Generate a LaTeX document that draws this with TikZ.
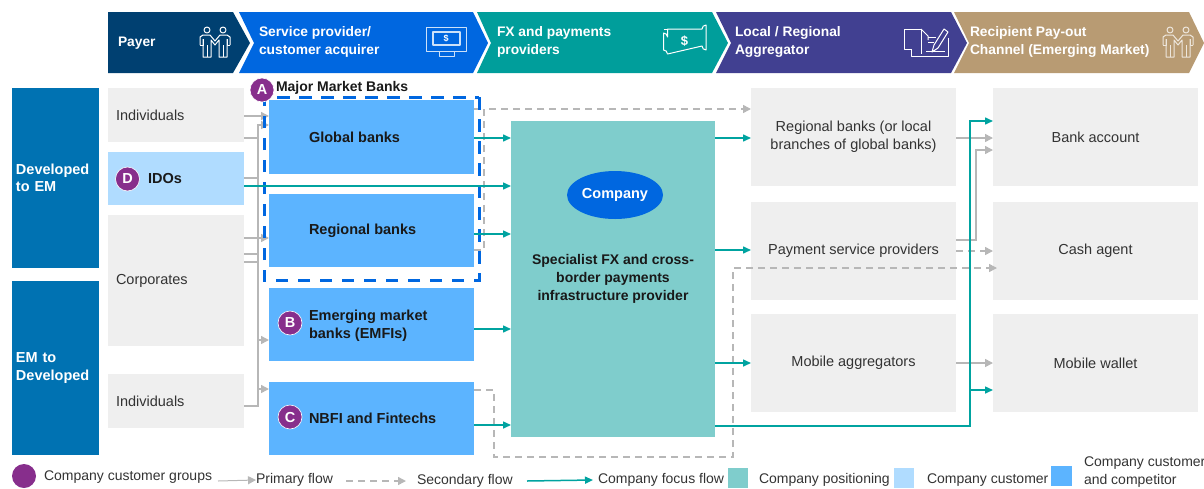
\documentclass[tikz,border=0pt]{standalone}
\usepackage{fontspec}
\setmainfont{Liberation Sans}
\usetikzlibrary{arrows.meta,positioning,shapes.geometric}
\definecolor{payercol}{HTML}{004071}
\definecolor{servicecol}{HTML}{0067E0}
\definecolor{fxcol}{HTML}{009E9B}
\definecolor{localcol}{HTML}{414091}
\definecolor{recipcol}{HTML}{B89B73}
\definecolor{sidecol}{HTML}{0072B2}
\definecolor{palegray}{HTML}{EFEFEF}
\definecolor{idocol}{HTML}{B0DCFF}
\definecolor{bankcol}{HTML}{5CB4FF}
\definecolor{companycol}{HTML}{7FCDCC}
\definecolor{badgecol}{HTML}{872E8C}
\definecolor{focuscol}{HTML}{00A3A0}
\definecolor{flowcol}{HTML}{B7B7B7}
\definecolor{inkcol}{HTML}{333333}
\tikzset{
  box/.style={inner sep=0pt,outer sep=0pt},
  graybox/.style={box,fill=palegray,minimum width=205pt,minimum height=98pt,align=center,
    text=inkcol,font=\fontsize{14.5}{18}\selectfont},
  payerbox/.style={box,fill=palegray,minimum width=136pt},
  sidebox/.style={box,fill=sidecol,minimum width=87pt,text width=79pt,align=left,text=white,
    font=\fontsize{14.5}{17.5}\selectfont\bfseries},
  bankbox/.style={box,fill=bankcol,minimum width=205pt,minimum height=73pt},
  banklabel/.style={box,align=left,font=\fontsize{14.5}{17.5}\selectfont\bfseries,text=black!90},
  payerlabel/.style={box,text=inkcol,font=\fontsize{14.5}{18}\selectfont},
  headlabel/.style={box,anchor=west,align=left,text=white,font=\fontsize{13.8}{18}\selectfont\bfseries},
  badge/.style={circle,fill=badgecol,draw=white,line width=.6pt,minimum size=24pt,inner sep=0pt,
    text=white,font=\fontsize{14.5}{17}\selectfont\bfseries},
  legendlabel/.style={box,anchor=west,align=left,text=inkcol,font=\fontsize{14}{18}\selectfont},
  primaryline/.style={draw=flowcol,line width=1.5pt},
  primaryflow/.style={primaryline,-{Triangle[length=8pt,width=8pt]}},
  secondline/.style={draw=flowcol,line width=1.5pt,dash pattern=on 7pt off 5pt},
  secondflow/.style={secondline,-{Triangle[length=8pt,width=8pt]}},
  focusflow/.style={draw=focuscol,line width=1.5pt,-{Triangle[length=8pt,width=7pt]}},
  icon/.style={line width=1pt,line join=round}
}
\newcommand{\peopleicon}[3]{%
  \begin{scope}[shift={(#1,#2)},icon,draw=#3]
    \draw (-8,-12) circle (3);
    \draw (8,-12) circle (3);
    \draw (-15,3) -- (-15,-5) -- (-12,-7) -- (-5,-7) -- (0,-1) -- (5,-7) -- (12,-7) -- (15,-5) -- (15,3);
    \draw (-15,3) -- (-12,3) -- (-12,-3);
    \draw (15,3) -- (12,3) -- (12,-3);
    \draw (-12,-3) -- (-12,15) -- (-4,15) -- (-4,-2) -- (0,3) -- (4,-2) -- (4,15) -- (12,15) -- (12,-3);
    \draw (-8,3) -- (-8,15);
    \draw (8,3) -- (8,15);
  \end{scope}}
\begin{document}
\begin{tikzpicture}[x=1pt,y=-1pt]
  \useasboundingbox (0,0) rectangle (1204,488);
  % header band
  \fill[payercol] (108,12) -- (233,12) -- (250,43) -- (233,73) -- (108,73) -- cycle;
  \fill[servicecol] (239,12) -- (473,12) -- (488,43) -- (473,73) -- (239,73) -- (254,43) -- cycle;
  \fill[fxcol] (477,12) -- (712,12) -- (728,43) -- (712,73) -- (477,73) -- (491,43) -- cycle;
  \fill[localcol] (716,12) -- (951,12) -- (967,43) -- (951,73) -- (716,73) -- (731,43) -- cycle;
  \fill[recipcol] (954,12) -- (1189,12) -- (1204,43) -- (1189,73) -- (954,73) -- (969,43) -- cycle;
  \node[headlabel] (payerhead) at (118,43) {Payer};
  \node[headlabel] (servicehead) at (259,42) {Service provider/\\customer acquirer};
  \node[headlabel] (fxhead) at (497,42) {FX and payments\\providers};
  \node[headlabel] (localhead) at (735,42) {Local / Regional\\Aggregator};
  \node[headlabel] (reciphead) at (970,42) {Recipient Pay-out\\Channel (Emerging Market)};
  % header icons
  \peopleicon{215}{42}{white}
  \peopleicon{1178}{42}{white!75!recipcol}
  \begin{scope}[icon,draw=white!80!servicecol]
    \draw (433,51) -- (426,51) -- (426,27) -- (466,27) -- (466,51) -- (459,51);
    \draw[line width=1.3pt] (433,32) rectangle (460,45);
    \draw (433,51) -- (459,51);
    \draw (439,51) -- (439,56) -- (454,56) -- (454,51);
    \node[text=white,inner sep=0pt,font=\fontsize{9}{9}\selectfont\bfseries] (atmsign) at (446,38) {\$};
  \end{scope}
  \begin{scope}[icon,draw=white]
    \draw (663.5,33) arc (-90:0:4) -- (667.5,29) -- (702,29) arc (180:270:4) -- (706,50) arc (90:180:4) -- (667.5,54) arc (0:-90:4) -- cycle;
    \draw (663.5,29) -- (667.5,29);
    \node[text=white,inner sep=0pt,font=\fontsize{13}{13}\selectfont\bfseries] (cashsign) at (684.5,41.5) {\$};
  \end{scope}
  \begin{scope}[icon,draw=white]
    \draw (911,49) -- (904.5,49) -- (904.5,29) -- (921,29) -- (921,54);
    \draw (921,29) -- (928,36) -- (928,40);
    \draw (911,49) -- (911,56) -- (948,56) -- (948,38);
    \draw (928,37) -- (936,37);
    \draw (928,42) -- (934,42);
    \draw (932,52) -- (934,45) -- (944,29) -- (948,32) -- (938,48) -- cycle;
    \draw[line width=1.6pt] (926,51.5) -- (945,51.5);
  \end{scope}
  % left column
  \node[sidebox,minimum height=180pt] (devtoem) at (55.5,178) {Developed\\to EM};
  \node[sidebox,minimum height=174pt] (emtodev) at (55.5,368) {EM to\\Developed};
  \node[payerbox,minimum height=54pt] (indiva) at (176,115) {};
  \node[payerbox,fill=idocol,minimum height=53pt] (idos) at (176,178.5) {};
  \node[payerbox,minimum height=131pt] (corporates) at (176,280.5) {};
  \node[payerbox,minimum height=54pt] (indivb) at (176,401) {};
  \node[payerlabel,right=8pt of indiva.west] (indivatext) {Individuals};
  \node[banklabel,right=40pt of idos.west] (idostext) {IDOs};
  \node[payerlabel,right=8pt of corporates.west] (corptext) {Corporates};
  \node[payerlabel,right=8pt of indivb.west] (indivbtext) {Individuals};
  % banks
  \node[bankbox,minimum height=74pt] (global) at (371.5,137) {};
  \node[bankbox] (regional) at (371.5,230.5) {};
  \node[bankbox] (emfi) at (371.5,324.5) {};
  \node[bankbox] (nbfi) at (371.5,418.5) {};
  \node[banklabel,right=40pt of global.west] (globaltext) {Global banks};
  \node[banklabel,right=40pt of regional.west] (regionaltext) {Regional banks};
  \node[banklabel,right=40pt of emfi.west,yshift=-1pt] (emfitext) {Emerging market\\banks (EMFIs)};
  \node[banklabel,right=40pt of nbfi.west] (nbfitext) {NBFI and Fintechs};
  % company block
  \node[box,fill=companycol,minimum width=204pt,minimum height=316pt] (company) at (613,279) {};
  \node[ellipse,fill=servicecol,minimum width=96pt,minimum height=48pt,inner sep=0pt,text=white,
    font=\fontsize{14.5}{17}\selectfont\bfseries] (companyoval) at (615,195) {Company};
  \node[banklabel,align=center,font=\fontsize{14}{18}\selectfont\bfseries] (companytext) at (613,279)
    {Specialist FX and cross-\\border payments\\infrastructure provider};
  % aggregators and pay-out
  \node[graybox] (localbanks) at (853.5,137) {Regional banks (or local\\branches of global banks)};
  \node[graybox] (psp) at (853.5,251) {Payment service providers};
  \node[graybox] (mobileagg) at (853.5,363) {Mobile aggregators};
  \node[graybox] (bankacc) at (1095.5,137) {Bank account};
  \node[graybox] (cashagent) at (1095.5,251) {Cash agent};
  \node[graybox] (wallet) at (1095.5,363) {Mobile wallet};
  % primary flows
  \coordinate (trunktop) at (258,125);
  \coordinate (trunkbot) at (258,406);
  \draw[primaryflow] (indiva.east |- 0,116) -- (global.west |- 0,116);
  \draw[primaryline] (indiva.east |- 0,138) -- (trunktop |- 0,138);
  \draw[primaryline] (idos.east |- 0,178) -- (trunktop |- 0,178);
  \draw[primaryline] (corporates.east |- 0,254) -- (trunktop |- 0,254);
  \draw[primaryline] (corporates.east |- 0,262) -- (trunktop |- 0,262);
  \draw[primaryflow] (corporates.east |- 0,238) -- (regional.west |- 0,238);
  \draw[primaryflow] (indivb.east |- trunkbot) -- (trunkbot) -- (trunktop) -- (global.west |- trunktop);
  \draw[primaryflow] (trunktop |- 0,340) -- (emfi.west |- 0,340);
  \draw[primaryflow] (trunktop |- 0,389) -- (nbfi.west |- 0,389);
  \draw[primaryflow] (localbanks.east |- 0,138) -- (bankacc.west |- 0,138);
  \draw[primaryflow] (psp.east |- 0,240) -- (976,240) -- (976,150) -- (bankacc.west |- 0,150);
  \draw[primaryflow] (mobileagg.east) -- (wallet.west);
  % secondary flows
  \coordinate (secondup) at (484,109);
  \coordinate (seconddown) at (494,390);
  \coordinate (secondback) at (733,268);
  \draw[secondline] (global.east |- secondup) -- (secondup);
  \draw[secondflow] (regional.east |- 0,250) -- (secondup |- 0,250) -- (secondup) -- (localbanks.west |- secondup);
  \draw[secondflow] (psp.east) -- (cashagent.west);
  \draw[secondflow] (nbfi.east |- seconddown) -- (seconddown) -- (494,457) -- (733,457) -- (secondback) -- (997,268);
  % major banks frame
  \draw[servicecol,line width=3pt,dash pattern=on 12.5pt off 9.5pt] (479,97) -- (479,280) -- (264,280) -- (264,97) -- cycle;
  % focus flows
  \draw[focusflow] (idos.east |- 0,186) -- (company.west |- 0,186);
  \draw[focusflow] (global.east |- 0,138) -- (company.west |- 0,138);
  \draw[focusflow] (regional.east |- 0,234) -- (company.west |- 0,234);
  \draw[focusflow] (emfi.east |- 0,329) -- (company.west |- 0,329);
  \draw[focusflow] (nbfi.east |- 0,425) -- (company.west |- 0,425);
  \draw[focusflow] (company.east |- 0,138) -- (localbanks.west |- 0,138);
  \draw[focusflow] (company.east |- 0,250) -- (psp.west |- 0,250);
  \draw[focusflow] (company.east |- mobileagg) -- (mobileagg.west);
  \coordinate (focusturn) at (970,426);
  \draw[focusflow] (company.east |- focusturn) -- (focusturn) -- (970,121) -- (bankacc.west |- 0,121);
  \draw[focusflow] (focusturn |- 0,390) -- (wallet.west |- 0,390);
  % badges
  \node[badge] (badgea) at (262,90) {A};
  \node[banklabel,anchor=west,font=\fontsize{14}{17}\selectfont\bfseries] (majorbanks) at (276,88) {Major Market Banks};
  \node[badge] (badgeb) at (290,323) {B};
  \node[badge] (badgec) at (290,417) {C};
  \node[badge] (badged) at (127.5,179) {D};
  % legend
  \node[circle,fill=badgecol,minimum size=24pt,inner sep=0pt] (legdot) at (24,476) {};
  \node[legendlabel] (legdottext) at (44,477) {Company customer groups};
  \coordinate (legprimary) at (218,481);
  \node[legendlabel] (legprimarytext) at (256,480) {Primary flow};
  \draw[primaryflow,line width=1pt] (legprimary) -- (legprimarytext.west);
  \coordinate (legsecond) at (346,481);
  \node[legendlabel] (legsecondtext) at (417,481) {Secondary flow};
  \draw[secondflow] (legsecond) -- ([xshift=-11pt]legsecondtext.west);
  \coordinate (legfocus) at (527,481);
  \node[legendlabel] (legfocustext) at (598,480) {Company focus flow};
  \draw[focusflow] (legfocus) -- ([xshift=-5pt]legfocustext.west);
  \node[box,fill=companycol,minimum width=20pt,minimum height=20pt] (legcompany) at (738,478) {};
  \node[legendlabel] (legcompanytext) at (759,480) {Company positioning};
  \node[box,fill=idocol,minimum width=20pt,minimum height=20pt] (legidos) at (904,478) {};
  \node[legendlabel] (legidostext) at (927,480) {Company customer};
  \node[box,fill=bankcol,minimum width=21pt,minimum height=20pt] (legbank) at (1061.5,476) {};
  \node[legendlabel] (legbanktext) at (1084,472) {Company customer\\and competitor};
\end{tikzpicture}
\end{document}
